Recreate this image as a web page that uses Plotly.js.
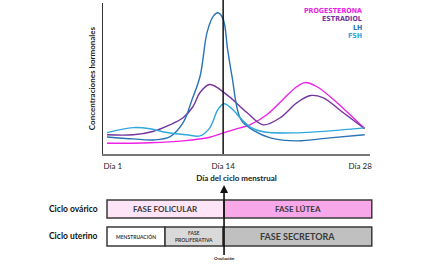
<!DOCTYPE html>
<html><head><meta charset="utf-8">
<script src="https://cdn.plot.ly/plotly-3.0.1.min.js"></script>
<style>html,body{margin:0;padding:0;background:#fff}#chart{width:425px;height:268px}</style>
</head><body><div id="chart"></div>
<script>
// ---- data (x = position along the cycle, y = relative concentration) ----
const progX = [0.45, 5.3, 9.0, 12.0, 13.5, 15.4, 16.5, 18.4, 20.2, 21.8, 22.7, 24.0, 26.3, 29.2, 29.4];
const progY = [7.1, 7.5, 8.7, 11.1, 14.0, 17.3, 19.3, 26.0, 36.0, 44.7, 47.3, 44.7, 34.0, 18.0, 17.3];
const estrX = [0.45, 3.4, 5.6, 7.5, 9.0, 10.1, 10.9, 12.0, 13.9, 16.2, 18.0, 19.9, 21.8, 23.3, 24.7, 27.0, 29.4];
const estrY = [12.7, 12.7, 14.9, 19.3, 24.0, 31.3, 40.7, 46.0, 39.3, 27.3, 19.3, 24.0, 34.0, 38.7, 37.3, 27.3, 16.7];
const lhX = [0.45, 3.4, 5.6, 7.5, 9.0, 10.0, 10.9, 11.7, 12.4, 12.9, 13.5, 14.0, 14.5, 15.5, 17.0, 18.8, 21.8, 25.5, 29.4];
const lhY = [11.3, 10.0, 9.3, 11.3, 20.7, 36.0, 51.3, 80.7, 91.3, 93.5, 89.3, 69.3, 51.3, 22.7, 15.3, 10.7, 8.7, 10.7, 12.7];
const fshX = [0.45, 3.4, 5.3, 7.2, 9.4, 10.9, 12.0, 12.9, 13.6, 14.6, 15.4, 16.5, 18.0, 21.8, 25.5, 29.4];
const fshY = [14.2, 17.5, 16.7, 14.2, 12.7, 12.0, 17.3, 29.3, 33.3, 29.3, 24.0, 18.0, 14.7, 14.0, 15.3, 17.3];

const hormoneNames = ['PROGESTERONA', 'ESTRADIOL', 'LH', 'FSH'];
const tickDays = [1.1, 13.5, 28.9];
const tickLabels = ['Día 1', 'Día 14', 'Día 28'];
const ovulationX = 13.5;

// cycle phases: boundaries along the same x positions
const ovarianPhases = ['FASE FOLICULAR', 'FASE LÚTEA'];
const ovarianBounds = [0.45, 13.6, 30.2];
const uterinePhases = ['MENSTRUACIÓN', 'FASE<br>PROLIFERATIVA', 'FASE SECRETORA'];
const uterineBounds = [0.45, 6.97, 13.5, 30.2];
const rowLabels = ['Ciclo ovárico', 'Ciclo uterino'];

// ---- styles ----
const colors = ['#ee22e6', '#7434a0', '#2a73b4', '#2fa8dc'];
const XMAX = 30;
const toPaper = x => x / XMAX;
const font = 'Lato, "Open Sans", sans-serif';

const series = [[progX, progY], [estrX, estrY], [lhX, lhY], [fshX, fshY]];
const traces = series.map((s, i) => ({
  x: s[0], y: s[1], type: 'scatter', mode: 'lines', name: hormoneNames[i],
  line: {color: colors[i], width: 1.4, shape: 'spline', smoothing: 1},
  hoverinfo: 'skip'
}));

const shapes = [
  {type: 'line', xref: 'x', yref: 'paper', x0: ovulationX, x1: ovulationX, y0: 0, y1: 1.02,
   line: {color: '#111', width: 1.5}}
];
const annotations = [];
const center = {xanchor: 'center', yanchor: 'middle', showarrow: false, xref: 'paper', yref: 'paper'};

const ovFill = ['#fde4f7', '#f8a8e8'];
const ovY = [-0.305, -0.424];
ovarianPhases.forEach((p, i) => {
  shapes.push({type: 'rect', xref: 'paper', yref: 'paper',
    x0: toPaper(ovarianBounds[i]), x1: toPaper(ovarianBounds[i + 1]), y0: ovY[1], y1: ovY[0],
    fillcolor: ovFill[i], line: {color: '#3a3a3a', width: 1.5}, layer: 'above'});
  annotations.push(Object.assign({}, center, {
    x: toPaper((ovarianBounds[i] + ovarianBounds[i + 1]) / 2), y: (ovY[0] + ovY[1]) / 2,
    text: '<b>' + p + '</b>', font: {family: font, size: 8, color: '#3a3a3a'}}));
});
const utFill = ['#ffffff', '#d9d9d9', '#c0c0c0'];
const utY = [-0.483, -0.609];
const utSize = [5, 5, 9];
uterinePhases.forEach((p, i) => {
  shapes.push({type: 'rect', xref: 'paper', yref: 'paper',
    x0: toPaper(uterineBounds[i]), x1: toPaper(uterineBounds[i + 1]), y0: utY[1], y1: utY[0],
    fillcolor: utFill[i], line: {color: '#3a3a3a', width: 1.5}, layer: 'above'});
  annotations.push(Object.assign({}, center, {
    x: toPaper((uterineBounds[i] + uterineBounds[i + 1]) / 2), y: (utY[0] + utY[1]) / 2,
    text: '<b>' + p + '</b>', font: {family: font, size: utSize[i], color: '#3a3a3a'}}));
});
[(ovY[0] + ovY[1]) / 2, (utY[0] + utY[1]) / 2].forEach((y, i) => {
  annotations.push(Object.assign({}, center, {x: -0.112, y: y,
    text: '<b>' + rowLabels[i] + '</b>', font: {family: font, size: 8.5, color: '#111'}}));
});
// legend as coloured labels
const legY = [0.945, 0.896, 0.834, 0.781];
hormoneNames.forEach((n, i) => {
  annotations.push(Object.assign({}, center, {x: 0.974, y: legY[i], xanchor: 'right',
    borderpad: 0,
    text: '<b>' + n + '</b>',
    font: {family: '"Liberation Sans Narrow", "DejaVu Sans Condensed", Lato, sans-serif', size: 7, color: colors[i]}}));
});
// ovulation arrow
annotations.push({xref: 'paper', yref: 'paper', x: toPaper(13.6), y: -0.205, ax: 0, ay: 74,
  text: '<b>Ovulación</b>', font: {family: font, size: 4.5, color: '#111'},
  showarrow: true, arrowhead: 2, arrowsize: 1, arrowwidth: 1.6, arrowcolor: '#111', standoff: 0});

const layout = {
  width: 425, height: 268,
  margin: {l: 103, r: 55, t: 3, b: 114},
  paper_bgcolor: '#fff', plot_bgcolor: '#fff',
  showlegend: false,
  font: {family: font},
  xaxis: {range: [0, XMAX], showgrid: false, zeroline: false, showline: true,
    linecolor: '#777', linewidth: 1.5, ticks: '', tickvals: tickDays, ticktext: tickLabels,
    ticklabelstandoff: 4,
    tickfont: {family: font, size: 8, color: '#222'},
    title: {text: '<b>Día del ciclo menstrual</b>', font: {family: font, size: 8, color: '#222'}, standoff: 5}},
  yaxis: {range: [0, 100], showgrid: false, zeroline: false, showline: true,
    linecolor: '#333', linewidth: 1.5, showticklabels: false, ticks: '',
    title: {text: '<b>Concentraciones hormonales</b>', font: {family: font, size: 8, color: '#222'}, standoff: 4}},
  shapes: shapes,
  annotations: annotations
};

Plotly.newPlot('chart', traces, layout, {staticPlot: true, displayModeBar: false});
</script>
</body></html>
